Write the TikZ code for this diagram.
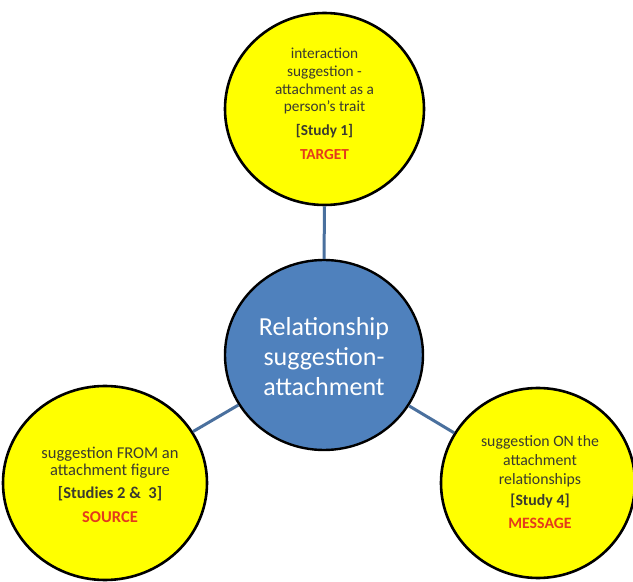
\documentclass[tikz,border=0pt]{standalone}
\usepackage{fontspec}
\setmainfont{Carlito}
\usetikzlibrary{shapes.geometric}
\definecolor{discyellow}{RGB}{255,255,0}
\definecolor{hubblue}{RGB}{79,129,189}
\definecolor{linkblue}{RGB}{74,112,158}
\definecolor{bodygray}{RGB}{58,58,48}
\definecolor{tagred}{RGB}{228,58,28}
\tikzset{
  x=1pt, y=1pt,
  disc/.style={shape=ellipse, draw=black, line width=2.6pt, fill=discyellow, inner sep=0pt},
  hub/.style={shape=ellipse, draw=black, line width=2.4pt, fill=hubblue, inner sep=0pt},
  bodytext/.style={align=center, text=bodygray, inner sep=0pt},
  hubtext/.style={align=center, text=white, inner sep=0pt,
    font=\fontsize{26}{30}\selectfont},
  link/.style={draw=linkblue, line width=3pt},
}
\newcommand{\tagline}[1]{{\bfseries\color{tagred}#1}}
\begin{document}
\begin{tikzpicture}
\useasboundingbox (0,0) rectangle (633,582);
\clip (0,0) rectangle (633,582);
\fill[white] (0,0) rectangle (633,582);

% circles
\node[hub, minimum width=198pt, minimum height=190pt] (hubdisc) at (324,227) {};
\node[disc, minimum width=199pt, minimum height=192pt] (target) at (324.5,473) {};
\node[disc, minimum width=204pt, minimum height=194pt] (source) at (105,99) {};
\node[disc, minimum width=194pt, minimum height=190pt] (message) at (538,99) {};

% connectors
\draw[link] (hubdisc) -- (target);
\draw[link] (hubdisc) -- (source);
\draw[link] (hubdisc) -- (message);

% texts
\node[hubtext] (hublabel) at (324,225) {Relationship\\suggestion-\\attachment};

\node[bodytext, font=\fontsize{15.3}{17.7}\selectfont] (targetlabel) at (324.5,478)
  {interaction\\suggestion -\\attachment as a\\person's trait\\[6.3pt]
   \textbf{[Study 1]}\\[6.3pt]\tagline{TARGET}};

\node[bodytext, font=\fontsize{16.5}{17}\selectfont] (sourcelabel) at (110,97)
  {suggestion FROM an\\attachment figure\\[6pt]
   \textbf{[Studies 2 \&\ \ 3]}\\[7pt]\tagline{SOURCE}};

\node[bodytext, font=\fontsize{15.8}{19}\selectfont] (messagelabel) at (540,100)
  {suggestion ON the\\attachment\\relationships\\[1.5pt]
   \textbf{[Study 4]}\\[4pt]\tagline{MESSAGE}};
\end{tikzpicture}
\end{document}
